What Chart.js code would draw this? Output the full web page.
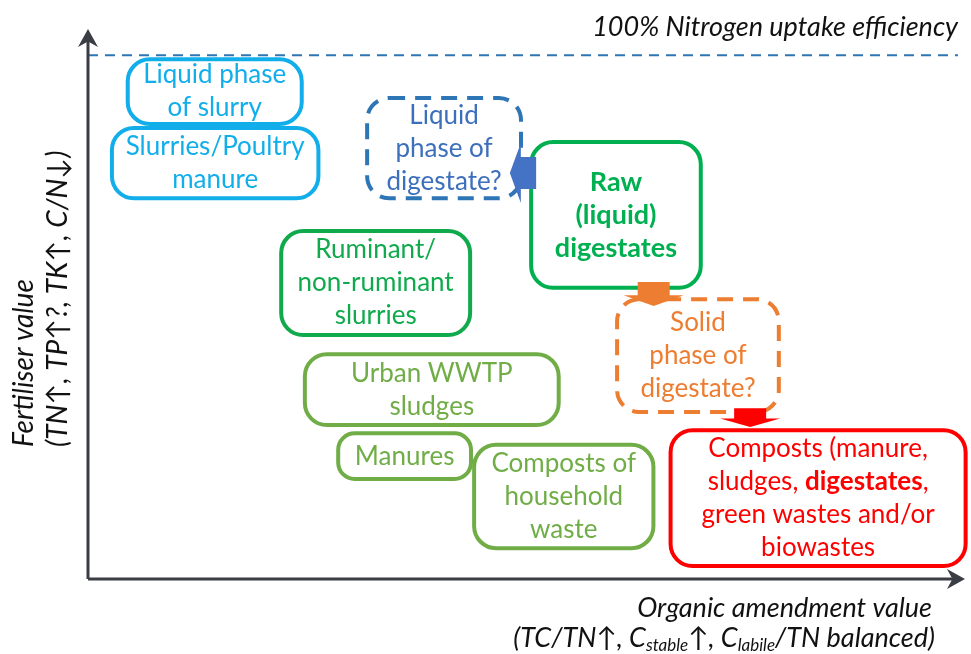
<!DOCTYPE html>
<html>
<head>
<meta charset="utf-8">
<script src="https://cdn.jsdelivr.net/npm/chart.js@4.4.1/dist/chart.umd.min.js"></script>
<style>
  html, body { margin: 0; background: #fff; }
  #wrap { width: 971px; height: 654px; }
</style>
</head>
<body>
<div id="wrap"><canvas id="chart"></canvas></div>
<script>
// ── Data ──────────────────────────────────────────────────────────────────────
// Boxes: x = organic amendment value (0–100), y = fertiliser value (0–100)
const BOX_TEXT = [
  ["Liquid phase", "of slurry"],
  ["Slurries/Poultry", "manure"],
  ["Liquid", "phase of", "digestate?"],
  ["*Raw*", "*(liquid)*", "*digestates*"],
  ["Ruminant/", "non-ruminant", "slurries"],
  ["Urban WWTP", "sludges"],
  ["Manures"],
  ["Composts of", "household", "waste"],
  ["Solid", "phase of", "digestate?"],
  ["Composts (manure,", "sludges, *digestates*,", "green wastes and/or", "biowastes"],
];
const BOX_X_MIN = [4.3, 2.5, 31.6, 50.3, 21.8, 24.5, 28.3, 43.8, 60.1, 66.2];
const BOX_X_MAX = [24.6, 26.5, 49.6, 70.1, 43.8, 53.9, 43.9, 64.7, 79.0, 100.3];
const BOX_Y_MIN = [86.5, 72.3, 72.3, 55.2, 46.2, 29.0, 18.7, 5.5, 31.5, 2.1];
const BOX_Y_MAX = [99.6, 86.5, 92.2, 83.8, 66.8, 43.3, 28.2, 26.0, 53.8, 28.8];
const BOX_GROUP = ["slurry", "slurry", "liqDig", "rawDig", "green", "olive", "olive", "olive", "solDig", "compost"];

// Arrows (from → to, same units)
const ARROW_X_FROM = [51.1, 64.5, 75.5];
const ARROW_Y_FROM = [77.5, 56.7, 32.6];
const ARROW_X_TO   = [48.1, 64.5, 75.5];
const ARROW_Y_TO   = [77.5, 52.1, 29.0];
const ARROW_GROUP  = ["liqDig", "solDig", "compost"];

// 100% N uptake line
const NUE_X = [0, 99.2];
const NUE_Y = [100, 100];

// ── Styles ────────────────────────────────────────────────────────────────────
const FONT = "Lato, 'Open Sans', sans-serif";
const STYLE = {
  slurry:  { stroke: "#12AEEA", text: "#12AEEA", dash: [] },
  liqDig:  { stroke: "#2E75B6", text: "#3C6FBC", fill: "#4472C4", dash: [16, 10] },
  rawDig:  { stroke: "#00B050", text: "#00B050", dash: [] },
  green:   { stroke: "#10AA4C", text: "#10AA4C", dash: [] },
  olive:   { stroke: "#70AD47", text: "#70AD47", dash: [] },
  solDig:  { stroke: "#ED7D31", text: "#ED7D31", fill: "#ED7D31", dash: [16, 10] },
  compost: { stroke: "#FF0000", text: "#FF0000", fill: "#FF0000", dash: [] },
};
const AXIS_COLOR = "#3a3d44";

// ── Helpers ───────────────────────────────────────────────────────────────────
function roundRect(ctx, x, y, w, h, r) {
  ctx.beginPath();
  ctx.moveTo(x + r, y);
  ctx.lineTo(x + w - r, y);
  ctx.arcTo(x + w, y, x + w, y + r, r);
  ctx.lineTo(x + w, y + h - r);
  ctx.arcTo(x + w, y + h, x + w - r, y + h, r);
  ctx.lineTo(x + r, y + h);
  ctx.arcTo(x, y + h, x, y + h - r, r);
  ctx.lineTo(x, y + r);
  ctx.arcTo(x, y, x + r, y, r);
  ctx.closePath();
}

// line with *bold* parts
function drawRichLine(ctx, line, cx, cy, size) {
  const segs = line.split("*").map((t, i) => ({ t, bold: i % 2 === 1 })).filter(s => s.t);
  const fontOf = s => `${s.bold ? "bold " : ""}${size}px ${FONT}`;
  let total = 0;
  segs.forEach(s => { ctx.font = fontOf(s); s.w = ctx.measureText(s.t).width; total += s.w; });
  let x = cx - total / 2;
  ctx.textAlign = "left";
  ctx.textBaseline = "middle";
  segs.forEach(s => { ctx.font = fontOf(s); ctx.fillText(s.t, x, cy); x += s.w; });
}

// segments: [text, sub?]
function drawRightAligned(ctx, segs, right, cy, size, subSize) {
  const fontOf = sub => `italic ${sub ? subSize : size}px ${FONT}`;
  let total = 0;
  const ws = segs.map(([t, sub]) => { ctx.font = fontOf(sub); const w = ctx.measureText(t).width; total += w; return w; });
  let x = right - total;
  ctx.textAlign = "left";
  ctx.textBaseline = "middle";
  segs.forEach(([t, sub], i) => {
    ctx.font = fontOf(sub);
    ctx.fillText(t, x, cy + (sub ? 8 : 0));
    x += ws[i];
  });
}

function arrowHead(ctx, tx, ty, angle, len, half) {
  ctx.save();
  ctx.translate(tx, ty);
  ctx.rotate(angle);
  ctx.beginPath();
  ctx.moveTo(0, 0);
  ctx.lineTo(-len, -half);
  ctx.lineTo(-len * 0.7, 0);
  ctx.lineTo(-len, half);
  ctx.closePath();
  ctx.fill();
  ctx.restore();
}

// ── Plugin: axes, boxes, arrows, titles ───────────────────────────────────────
const diagramPlugin = {
  id: "diagram",
  afterDatasetsDraw(chart) {
    const { ctx, chartArea: a, scales: { x, y } } = chart;
    const x0 = x.getPixelForValue(0), y0 = y.getPixelForValue(0);

    // axes with arrowheads
    ctx.save();
    ctx.strokeStyle = AXIS_COLOR;
    ctx.fillStyle = AXIS_COLOR;
    ctx.lineWidth = 3;
    ctx.beginPath();
    ctx.moveTo(x0, y0); ctx.lineTo(x0, a.top + 10);
    ctx.moveTo(x0, y0); ctx.lineTo(a.right - 10, y0);
    ctx.stroke();
    arrowHead(ctx, x0, a.top, -Math.PI / 2, 18, 10);
    arrowHead(ctx, a.right, y0, 0, 18, 10);
    ctx.restore();

    // boxes
    BOX_TEXT.forEach((lines, i) => {
      const st = STYLE[BOX_GROUP[i]];
      const l = x.getPixelForValue(BOX_X_MIN[i]), r = x.getPixelForValue(BOX_X_MAX[i]);
      const t = y.getPixelForValue(BOX_Y_MAX[i]), b = y.getPixelForValue(BOX_Y_MIN[i]);
      ctx.save();
      ctx.strokeStyle = st.stroke;
      ctx.lineWidth = 4;
      ctx.setLineDash(st.dash);
      roundRect(ctx, l + 2, t + 2, r - l - 4, b - t - 4, Math.min(22, (b - t) / 3));
      ctx.stroke();
      ctx.setLineDash([]);
      ctx.fillStyle = st.text;
      const lh = 33, size = BOX_GROUP[i] === "rawDig" ? 27 : 26;
      const cy = (t + b) / 2 - (lines.length - 1) * lh / 2;
      lines.forEach((ln, k) => drawRichLine(ctx, ln, (l + r) / 2, cy + k * lh, size));
      ctx.restore();
    });

    // block arrows
    ARROW_X_FROM.forEach((_, i) => {
      const fx = x.getPixelForValue(ARROW_X_FROM[i]), fy = y.getPixelForValue(ARROW_Y_FROM[i]);
      const tx = x.getPixelForValue(ARROW_X_TO[i]),   ty = y.getPixelForValue(ARROW_Y_TO[i]);
      const ang = Math.atan2(ty - fy, tx - fx);
      const len = Math.hypot(tx - fx, ty - fy);
      const headLen = Math.min(11, len * 0.45), shaft = 16, head = 30;
      ctx.save();
      ctx.translate(fx, fy);
      ctx.rotate(ang);
      ctx.fillStyle = STYLE[ARROW_GROUP[i]].fill;
      ctx.beginPath();
      ctx.moveTo(0, -shaft);
      ctx.lineTo(len - headLen, -shaft);
      ctx.lineTo(len - headLen, -head);
      ctx.lineTo(len, 0);
      ctx.lineTo(len - headLen, head);
      ctx.lineTo(len - headLen, shaft);
      ctx.lineTo(0, shaft);
      ctx.closePath();
      ctx.fill();
      ctx.restore();
    });

    // titles
    ctx.save();
    ctx.fillStyle = "#111";
    ctx.font = `italic 27px ${FONT}`;
    ctx.textAlign = "right";
    ctx.textBaseline = "middle";
    ctx.fillText("100% Nitrogen uptake efficiency", a.right - 7, a.top - 2);

    drawRightAligned(ctx, [["Organic amendment value"]], a.right - 33, y0 + 29, 27, 17);
    drawRightAligned(ctx, [["(TC/TN\u2191, C"], ["stable", true], ["\u2191, C"], ["labile", true], ["/TN balanced)"]],
      a.right - 30, y0 + 59, 27, 17);

    ctx.translate(x0 - 64, y0 - 132);
    ctx.rotate(-Math.PI / 2);
    ctx.textAlign = "left";
    ctx.font = `italic 28px ${FONT}`;
    ctx.fillText("Fertiliser value", 0, 0);
    ctx.fillText("(TN\u2191, TP\u2191?, TK\u2191, C/N\u2193)", 0, 34);
    ctx.restore();
  }
};

// ── Chart ─────────────────────────────────────────────────────────────────────
new Chart(document.getElementById("chart"), {
  type: "scatter",
  data: {
    datasets: [{
      label: "100% Nitrogen uptake efficiency",
      data: NUE_X.map((v, i) => ({ x: v, y: NUE_Y[i] })),
      showLine: true,
      borderColor: "#2E75B6",
      borderWidth: 2,
      borderDash: [10, 7],
      pointRadius: 0,
    }]
  },
  options: {
    responsive: true,
    maintainAspectRatio: false,
    animation: false,
    layout: { padding: { left: 88, right: 6, top: 29, bottom: 75 } },
    plugins: { legend: { display: false }, tooltip: { enabled: false } },
    scales: {
      x: { type: "linear", min: 0, max: 100, display: false },
      y: { type: "linear", min: 0, max: 105, display: false },
    }
  },
  plugins: [diagramPlugin]
});
</script>
</body>
</html>
